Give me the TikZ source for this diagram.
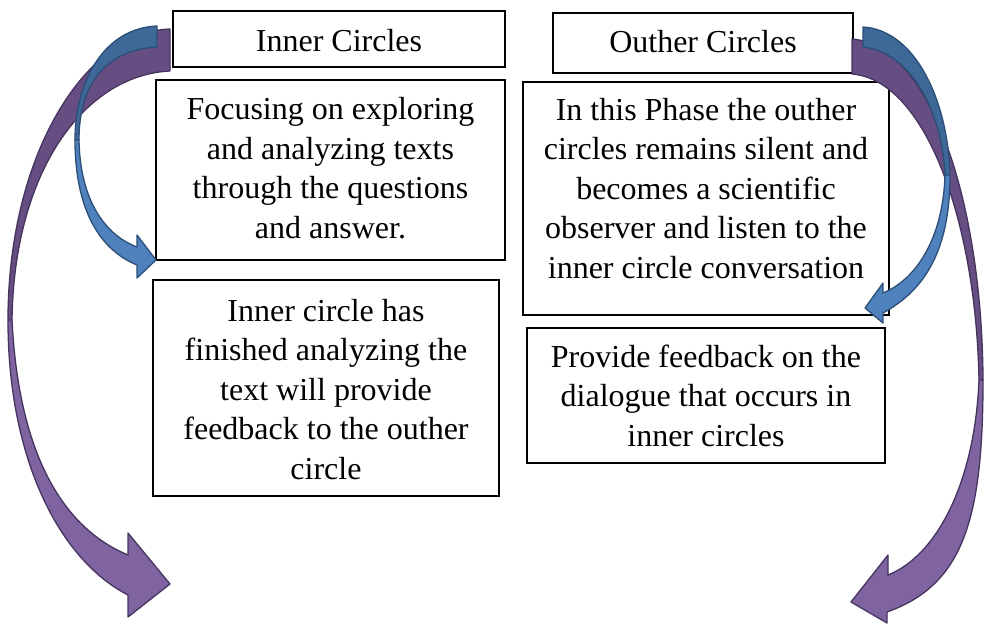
\documentclass[tikz,border=0pt]{standalone}
\usepackage{fontspec}
\setmainfont{Liberation Serif}
\definecolor{pDark}{HTML}{664E82}
\definecolor{pLight}{HTML}{8064A2}
\definecolor{pLine}{HTML}{45355E}
\definecolor{bDark}{HTML}{3D6898}
\definecolor{bLight}{HTML}{4F81BD}
\definecolor{bLine}{HTML}{2C4F78}
\newcommand{\boxcontent}[4]{\parbox[c][#2pt][t]{#1pt}{\centering\rule{0pt}{#3pt}#4}}
\tikzset{
  txtbox/.style={draw=black, line width=1.6pt, fill=white, inner sep=0pt,
    font=\fontsize{32pt}{39.5pt}\selectfont},
  pback/.style={fill=pDark, draw=pLine, line width=1.3pt, line join=round},
  pfront/.style={fill=pLight, draw=pLine, line width=1.3pt, line join=round},
  bback/.style={fill=bDark, draw=bLine, line width=1.3pt, line join=round},
  bfront/.style={fill=bLight, draw=bLine, line width=1.3pt, line join=round}
}
\begin{document}
\begin{tikzpicture}[x=1pt,y=-1pt]
\useasboundingbox[fill=white] (0,0) rectangle (986,625);

% boxes
\node[txtbox] (innerhead) at (339,39) {\boxcontent{332}{56}{40.7}{Inner Circles}};
\node[txtbox] (innerA) at (330.5,170) {\boxcontent{349}{180}{39.5}{Focusing on exploring\\and analyzing texts\\through the questions\\and answer.}};
\node[txtbox] (innerB) at (326,388) {\boxcontent{346}{216}{41}{Inner circle has\\finished analyzing the\\text will provide\\feedback to the outher\\circle}};
\node[txtbox] (outerhead) at (703,43) {\boxcontent{300}{60}{39.7}{Outher Circles}};
\node[txtbox] (outerA) at (706,198.5) {\boxcontent{366}{233}{38}{In this Phase the outher\\circles remains silent and\\becomes a scientific\\observer and listen to the\\inner circle conversation}};
\node[txtbox] (outerB) at (706,395.5) {\boxcontent{358}{135}{39}{Provide feedback on the\\dialogue that occurs in\\inner circles}};

% left purple curved arrow
\draw[pback] (170,29) .. controls (85,32) and (8,155) .. (8,320) -- (12,320)
  .. controls (14,170) and (85,75) .. (170,71) -- cycle;
\draw[pfront] (8,320) .. controls (8,460) and (60,560) .. (128,595) -- (128,617)
  -- (170,584) -- (128,533) -- (128,555) .. controls (80,535) and (20,480) .. (12,320) -- cycle;

% right purple curved arrow
\draw[pback] (852,39) .. controls (930,45) and (982,200) .. (983,380) -- (979,380)
  .. controls (976,220) and (925,80) .. (852,74) -- cycle;
\draw[pfront] (983,380) .. controls (983,520) and (963,585) .. (887,612) -- (887,623)
  -- (851,602) -- (888,555) -- (888,575) .. controls (938,555) and (975,480) .. (979,380) -- cycle;

% left blue curved arrow
\draw[bback] (157,26) .. controls (105,28) and (75,80) .. (75,140) -- (79,140)
  .. controls (79,85) and (105,50) .. (157,47) -- cycle;
\draw[bfront] (75,140) .. controls (75,210) and (100,250) .. (137,265) -- (137,278)
  -- (156,260) -- (137,235) -- (137,247) .. controls (105,235) and (80,200) .. (79,140) -- cycle;

% right blue curved arrow
\draw[bback] (863,27) .. controls (915,30) and (948,100) .. (950,175) -- (945,175)
  .. controls (942,110) and (910,52) .. (863,47) -- cycle;
\draw[bfront] (950,175) .. controls (950,250) and (925,290) .. (883,313) -- (883,323)
  -- (865,308) -- (883,283) -- (883,293) .. controls (915,280) and (943,240) .. (945,175) -- cycle;
\end{tikzpicture}
\end{document}
